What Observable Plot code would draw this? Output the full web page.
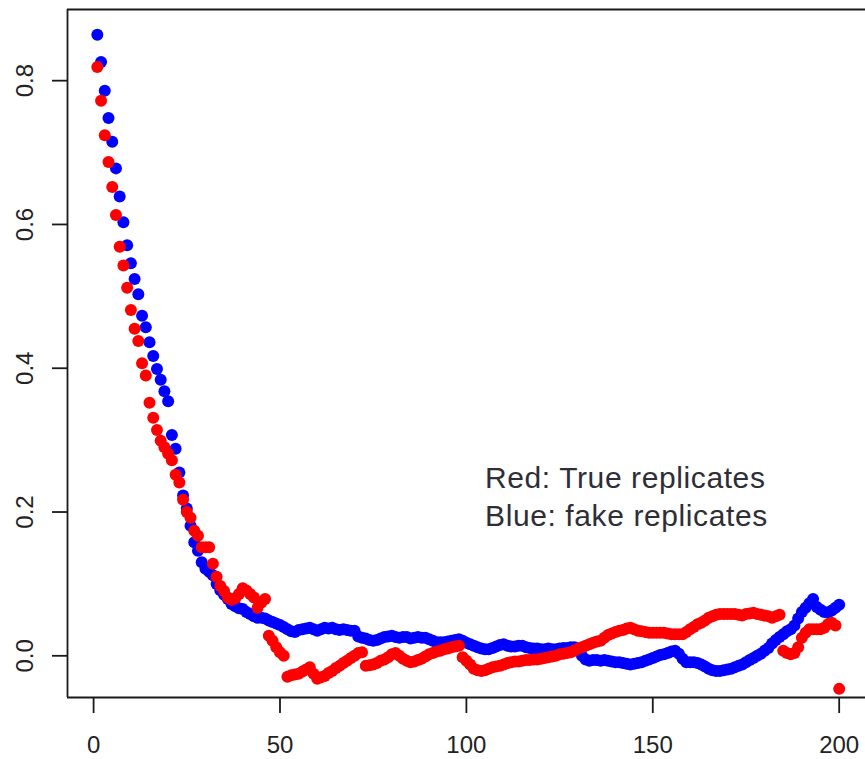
<!DOCTYPE html>
<html>
<head>
<meta charset="utf-8">
<script src="https://cdn.jsdelivr.net/npm/d3@7"></script>
<script src="https://cdn.jsdelivr.net/npm/@observablehq/plot@0.6"></script>
<style>
  html, body { margin: 0; padding: 0; background: #fff; }
</style>
</head>
<body>
<div id="chart"></div>
<script>
// Blue: fake replicates (index 1..200)
const blue = [
  0.864,0.826,0.786,0.748,0.715,0.678,0.639,0.603,0.571,0.546,
  0.524,0.503,0.473,0.457,0.436,0.417,0.399,0.384,0.368,0.354,
  0.307,0.288,0.255,0.223,0.205,0.181,0.158,0.146,0.130,0.121,
  0.117,0.112,0.100,0.091,0.085,0.079,0.072,0.069,0.066,0.065,
  0.061,0.058,0.055,0.053,0.053,0.052,0.049,0.047,0.045,0.043,
  0.040,0.037,0.034,0.033,0.036,0.037,0.038,0.039,0.037,0.035,
  0.037,0.039,0.038,0.039,0.037,0.036,0.037,0.036,0.035,0.035,
  0.027,0.025,0.024,0.022,0.021,0.022,0.024,0.026,0.027,0.028,
  0.026,0.025,0.026,0.026,0.024,0.025,0.026,0.025,0.025,0.023,
  0.021,0.019,0.019,0.019,0.020,0.021,0.022,0.023,0.021,0.018,
  0.016,0.014,0.012,0.010,0.009,0.009,0.011,0.013,0.015,0.016,
  0.014,0.013,0.013,0.014,0.014,0.012,0.011,0.010,0.010,0.009,
  0.009,0.010,0.009,0.009,0.010,0.011,0.011,0.012,0.012,0.008,
  0.000,-0.005,-0.007,-0.006,-0.006,-0.007,-0.006,-0.007,-0.008,-0.009,
  -0.009,-0.010,-0.011,-0.012,-0.011,-0.010,-0.009,-0.007,-0.005,-0.003,
  -0.001,0.001,0.002,0.004,0.006,0.007,0.003,-0.004,-0.009,-0.009,
  -0.009,-0.010,-0.012,-0.015,-0.018,-0.020,-0.021,-0.021,-0.020,-0.019,
  -0.018,-0.016,-0.014,-0.012,-0.009,-0.006,-0.003,0.000,0.003,0.007,
  0.011,0.017,0.022,0.026,0.030,0.034,0.037,0.042,0.052,0.061,
  0.067,0.073,0.079,0.068,0.064,0.061,0.060,0.063,0.067,0.071
];
// Red: true replicates (index 1..200)
const red = [
  0.819,0.772,0.724,0.687,0.652,0.613,0.569,0.543,0.512,0.481,
  0.455,0.438,0.407,0.390,0.352,0.331,0.314,0.299,0.290,0.281,
  0.272,0.252,0.241,0.217,0.200,0.192,0.174,0.167,0.151,0.151,
  0.151,0.128,0.110,0.097,0.090,0.081,0.078,0.080,0.086,0.094,
  0.091,0.086,0.081,0.067,0.074,0.079,0.028,0.021,0.012,0.005,
  0.000,-0.029,-0.027,-0.026,-0.025,-0.022,-0.019,-0.016,-0.025,-0.032,
  -0.030,-0.028,-0.024,-0.021,-0.017,-0.014,-0.010,-0.007,-0.003,0.000,
  0.004,0.005,-0.014,-0.013,-0.012,-0.010,-0.007,-0.005,-0.002,0.002,
  0.004,0.000,-0.004,-0.007,-0.009,-0.008,-0.006,-0.004,-0.001,0.002,
  0.004,0.006,0.007,0.009,0.010,0.012,0.013,0.014,-0.002,-0.007,
  -0.012,-0.018,-0.020,-0.021,-0.020,-0.018,-0.016,-0.015,-0.014,-0.012,
  -0.010,-0.009,-0.008,-0.008,-0.007,-0.006,-0.006,-0.005,-0.005,-0.004,
  -0.003,-0.002,-0.001,0.000,0.002,0.003,0.004,0.005,0.007,0.010,
  0.012,0.014,0.016,0.018,0.020,0.021,0.025,0.029,0.031,0.033,
  0.035,0.036,0.038,0.039,0.037,0.035,0.034,0.033,0.032,0.032,
  0.032,0.032,0.032,0.031,0.030,0.030,0.030,0.030,0.033,0.037,
  0.040,0.044,0.046,0.049,0.053,0.055,0.057,0.058,0.058,0.058,
  0.058,0.058,0.057,0.056,0.058,0.059,0.060,0.058,0.057,0.056,
  0.055,0.053,0.055,0.057,0.007,0.004,0.002,0.004,0.012,0.025,
  0.032,0.037,0.037,0.037,0.037,0.039,0.044,0.046,0.042,-0.046
];
const xTicks = [0, 50, 100, 150, 200];
const yTicks = [0.0, 0.2, 0.4, 0.6, 0.8];
const xDomain = [-7, 207.06];
const yDomain = [-0.058, 0.899];
const noteLines = ["Red: True replicates", "Blue: fake replicates"];
const noteX = 105.0;
const noteY = [0.233, 0.180];

const idx = d3.range(1, blue.length + 1);
const blueData = idx.map((i, k) => ({x: i, y: blue[k]}));
const redData = idx.map((i, k) => ({x: i, y: red[k]}));
const notes = noteLines.map((t, k) => ({t, x: noteX, y: noteY[k]}));

const frameColor = "#1a1a1a";

const chart = Plot.plot({
  width: 865,
  height: 759,
  marginLeft: 67,
  marginRight: 0,
  marginTop: 9,
  marginBottom: 62,
  style: {
    fontFamily: "'Liberation Sans', Arial, sans-serif",
    fontSize: "24px",
    color: "#222",
    background: "#fff"
  },
  x: {domain: xDomain},
  y: {domain: yDomain},
  marks: [
    Plot.ruleY([yDomain[0], yDomain[1]], {stroke: frameColor, strokeWidth: 1.8}),
    Plot.ruleX([xDomain[0]], {stroke: frameColor, strokeWidth: 1.8}),
    Plot.axisX({
      ticks: xTicks, tickSize: 16, tickPadding: 22, tickFormat: d => String(d),
      stroke: frameColor, strokeWidth: 1.8, fill: "#222", label: null
    }),
    Plot.axisY({
      ticks: yTicks, tickSize: 15, tickPadding: 20, tickRotate: -90,
      tickFormat: d => d.toFixed(1),
      stroke: frameColor, strokeWidth: 1.8, fill: "#222", label: null
    }),
    Plot.dot(blueData, {x: "x", y: "y", r: 6, fill: "#0000ff", stroke: null}),
    Plot.dot(redData, {x: "x", y: "y", r: 6, fill: "#ff0000", stroke: null}),
    Plot.text(notes, {
      x: "x", y: "y", text: "t", textAnchor: "start", lineAnchor: "bottom",
      fontSize: 30, fill: "#2e2e36"
    })
  ]
});

d3.select(chart).selectAll("text")
  .filter(function() { return this.textContent.includes("replicates"); })
  .attr("letter-spacing", "0.6px");

document.getElementById("chart").appendChild(chart);
</script>
</body>
</html>
